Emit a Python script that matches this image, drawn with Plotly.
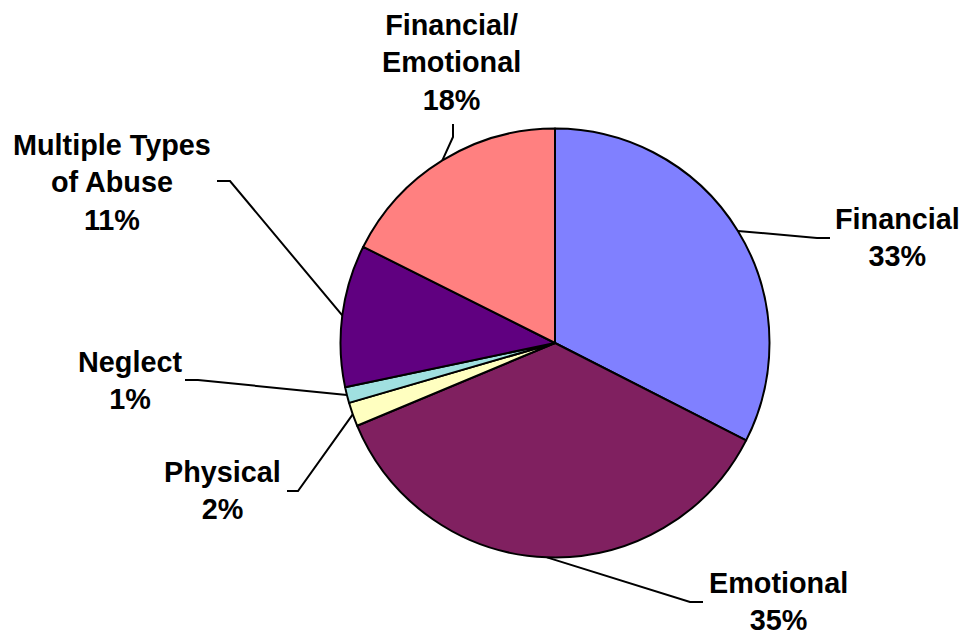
import math
import plotly.graph_objects as go

# ---- data ----
categories = ["Financial", "Emotional", "Physical", "Neglect",
              "Multiple Types of Abuse", "Financial/ Emotional"]
values = [32.5, 36.2, 1.8, 1.2, 10.7, 17.6]
# percentage labels as printed on the chart
pct_labels = ["33%", "35%", "2%", "1%", "11%", "18%"]
label_lines = ["Financial", "Emotional", "Physical", "Neglect",
               "Multiple Types<br>of Abuse", "Financial/<br>Emotional"]
colors = ["#8080FF", "#802060", "#FFFFC0", "#A0E0E0", "#600080", "#FF8080"]

# ---- layout constants (pixels) ----
W, H = 965, 637
CX, CY, R = 555, 343, 214.5
label_pos = [(897, 237.5), (778, 601.5), (222.5, 490), (129.5, 380.5),
             (112, 182.5), (451, 62.5)]
leader_elbow = [(817, 238), (690, 602), (298, 491), (198, 380), (230, 181), (453, 137)]
leader_end = [(830, 238), (703, 602), (287, 491), (185, 380), (217, 181), (453, 124)]
FONT = dict(family="Liberation Sans, Arial, sans-serif", size=28.8, color="black", weight="bold")

total = sum(values)

fig = go.Figure()
fig.add_trace(go.Pie(
    labels=categories, values=values, sort=False, direction="clockwise",
    rotation=0, textinfo="none", hoverinfo="label",
    marker=dict(colors=colors, line=dict(color="black", width=2)),
    domain=dict(x=[(CX - R) / W, (CX + R) / W],
                y=[1 - (CY + R) / H, 1 - (CY - R) / H]),
    showlegend=False,
))

cum = 0
annotations = []
for i, v in enumerate(values):
    mid = (cum + v / 2) / total
    cum += v
    th = 2 * math.pi * mid
    ex, ey = CX + R * math.sin(th), CY - R * math.cos(th)
    fig.add_trace(go.Scatter(
        x=[ex, leader_elbow[i][0], leader_end[i][0]],
        y=[ey, leader_elbow[i][1], leader_end[i][1]],
        mode="lines", line=dict(color="black", width=2),
        hoverinfo="skip", showlegend=False, xaxis="x", yaxis="y"))
    annotations.append(dict(
        x=label_pos[i][0], y=label_pos[i][1], xref="x", yref="y",
        text=f"{label_lines[i]}<br>{pct_labels[i]}", showarrow=False,
        xanchor="center", yanchor="middle", align="center", font=FONT))

fig.update_layout(
    width=W, height=H, margin=dict(l=0, r=0, t=0, b=0, pad=0),
    paper_bgcolor="white", plot_bgcolor="rgba(0,0,0,0)",
    xaxis=dict(range=[0, W], visible=False, fixedrange=True, domain=[0, 1]),
    yaxis=dict(range=[H, 0], visible=False, fixedrange=True, domain=[0, 1]),
    annotations=annotations, showlegend=False,
)

fig.write_html("out.html", config={"displayModeBar": False},
               post_script="document.body.style.margin='0';")
